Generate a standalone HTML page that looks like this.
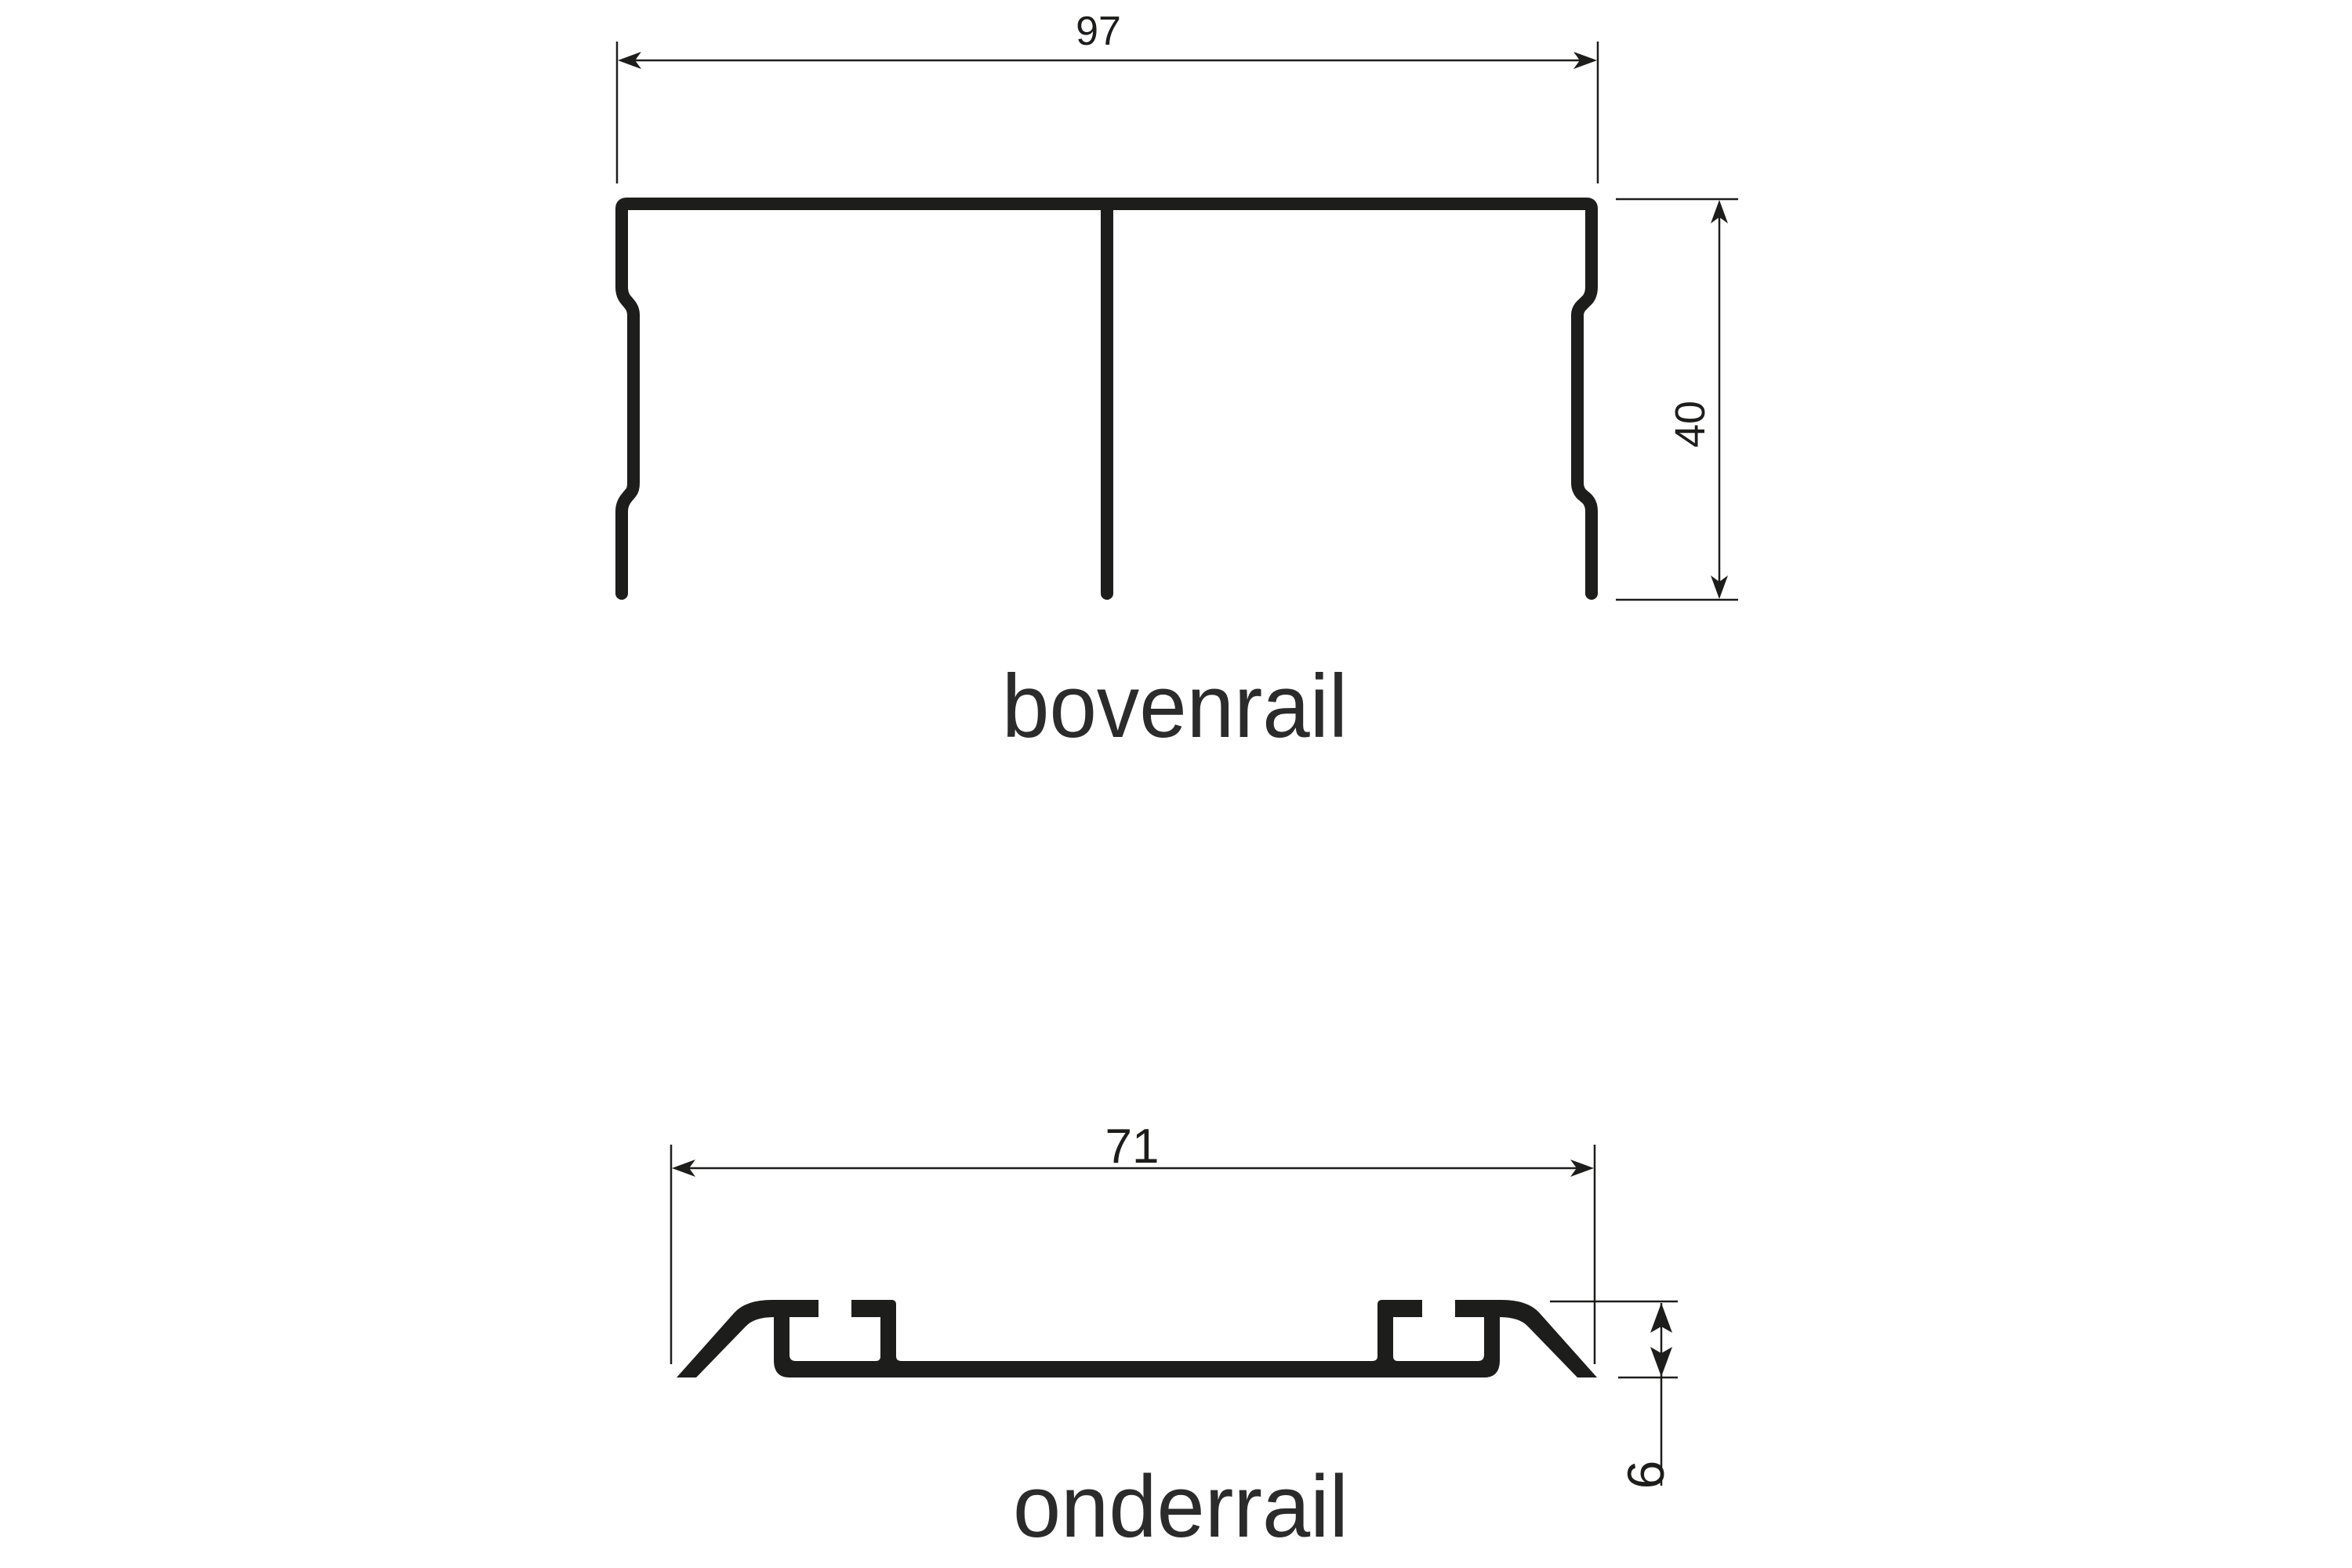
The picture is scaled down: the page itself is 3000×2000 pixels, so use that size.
<!DOCTYPE html>
<html><head><meta charset="utf-8"><style>html,body{margin:0;padding:0;background:#fff}svg{display:block}</style></head>
<body>
<svg width="3000" height="2000" viewBox="0 0 3000 2000" xmlns="http://www.w3.org/2000/svg">
<defs>
<path id="ar" d="M0 0 L30 -11 L22 0 L30 11 Z" fill="#1d1d1b"/>
</defs>
<rect width="3000" height="2000" fill="#fff"/>
<!-- bovenrail profile -->
<g fill="none" stroke="#1d1d1b" stroke-width="16" stroke-linejoin="round" stroke-linecap="round">
<path d="M793 757 L793 652 Q793 642 800 634 L805 628 Q808 624 808 616 L808 402 Q808 394 803 388 L798 382 Q793 376 793 366 L793 266 Q793 260 799 260 L2024 260 Q2030 260 2030 266 L2030 366 Q2030 376 2025 382 L2019 388 Q2012 394 2012 402 L2012 616 Q2012 624 2017 630 L2024 636 Q2030 642 2030 652 L2030 757"/>
<path d="M1412 268 L1412 757"/>
</g>
<!-- 97 dimension -->
<g stroke="#1d1d1b" stroke-width="2.5">
<line x1="787" y1="53" x2="787" y2="234"/>
<line x1="2038" y1="53" x2="2038" y2="234"/>
<line x1="800" y1="77" x2="2025" y2="77"/>
<line x1="2061" y1="254" x2="2217" y2="254"/>
<line x1="2061" y1="765" x2="2217" y2="765"/>
<line x1="2193" y1="265" x2="2193" y2="755"/>
</g>
<use href="#ar" transform="translate(788,77)"/>
<use href="#ar" transform="translate(2037,77) scale(-1,1)"/>
<use href="#ar" transform="translate(2193,255) rotate(90)"/>
<use href="#ar" transform="translate(2193,764) rotate(-90)"/>
<text x="1401" y="57" font-family="Liberation Sans, sans-serif" font-size="52" fill="#1d1d1b" text-anchor="middle">97</text>
<text transform="translate(2174,541) rotate(-90)" font-family="Liberation Sans, sans-serif" font-size="54" fill="#1d1d1b" text-anchor="middle">40</text>
<text x="1278" y="940" font-family="Liberation Sans, sans-serif" font-size="114" fill="#2b2b2b" textLength="441" lengthAdjust="spacingAndGlyphs">bovenrail</text>

<!-- onderrail profile -->
<g fill="#1d1d1b">
<path id="oh" d="M863 1757 L937 1674 Q952 1658 985 1658 L1044 1658 L1044 1680 L1007 1680 L1007 1728 Q1007 1736 1015 1736 L1117 1736 Q1123 1736 1123 1730 L1123 1680 L1086 1680 L1086 1658 L1137 1658 Q1143 1658 1143 1664 L1143 1730 Q1143 1736 1150 1736 L1452 1736 L1452 1757 L1007 1757 Q987 1757 987 1735 L987 1680 Q962 1680 951 1692 L888 1757 Z"/>
<use href="#oh" transform="translate(2900,0) scale(-1,1)"/>
</g>
<g stroke="#1d1d1b" stroke-width="2.5">
<line x1="856" y1="1460" x2="856" y2="1740"/>
<line x1="2034" y1="1460" x2="2034" y2="1740"/>
<line x1="870" y1="1490" x2="2020" y2="1490"/>
<line x1="1977" y1="1660" x2="2140" y2="1660"/>
<line x1="2064" y1="1757" x2="2140" y2="1757"/>
<line x1="2119" y1="1662" x2="2119" y2="1895"/>
</g>
<use href="#ar" transform="translate(857,1490)"/>
<use href="#ar" transform="translate(2033,1490) scale(-1,1)"/>
<path d="M2119 1662 L2105 1700 L2119 1692 L2133 1700 Z" fill="#1d1d1b"/>
<path d="M2119 1756 L2105 1718 L2119 1726 L2133 1718 Z" fill="#1d1d1b"/>
<text x="1444" y="1483" font-family="Liberation Sans, sans-serif" font-size="62" fill="#1d1d1b" text-anchor="middle">71</text>
<text transform="translate(2122,1881) rotate(-90)" font-family="Liberation Sans, sans-serif" font-size="66" fill="#1d1d1b" text-anchor="middle">6</text>
<text x="1292" y="1960" font-family="Liberation Sans, sans-serif" font-size="112" fill="#2b2b2b" textLength="428" lengthAdjust="spacingAndGlyphs">onderrail</text>
</svg>
</body></html>
